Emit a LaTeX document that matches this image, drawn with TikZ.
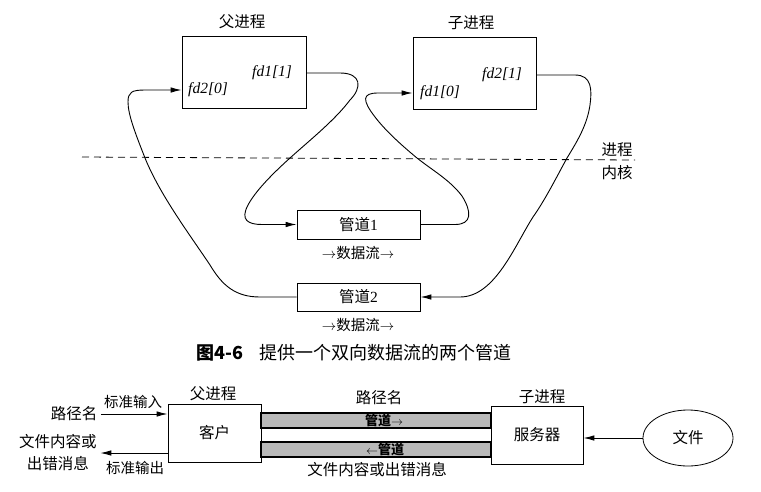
\documentclass[tikz,border=0pt]{standalone}
\usepackage{fontspec}
\setmainfont{Liberation Serif}
\newfontfamily\cjk{Noto Sans CJK SC}
\usetikzlibrary{arrows.meta,shapes.geometric}
\begin{document}
\begin{tikzpicture}[x=1pt,y=-1pt,
  box/.style={draw,line width=0.8pt,inner sep=0pt},
  conn/.style={line width=0.9pt},
  arr/.style={conn,-{Latex[length=11pt,width=5.5pt]}},
  zh/.style={font=\cjk\fontsize{15.5}{19}\selectfont},
  zhs/.style={font=\cjk\fontsize{14.5}{17}\selectfont},
  fdl/.style={font=\itshape\fontsize{15.5}{17}\selectfont},
  band/.style={draw,line width=1.3pt,fill=gray!55,minimum width=230pt,minimum height=15pt,inner sep=0pt},
  bandtext/.style={font=\cjk\bfseries\fontsize{13}{15}\selectfont},
]
\useasboundingbox (0,0) rectangle (761,491);

% ---- top figure ----
\node[box,minimum width=124pt,minimum height=72pt] (P) at (244,72) {};
\node[zh] (Pl) at (242,22) {父进程};
\node[box,minimum width=123pt,minimum height=72pt] (C) at (474.5,73) {};
\node[zh] (Cl) at (471,23) {子进程};
\node[fdl] (f11) at (272,73) {fd1[1]};
\node[fdl] (f20) at (208,90) {fd2[0]};
\node[fdl] (f10) at (440,93) {fd1[0]};
\node[fdl] (f21) at (502,75) {fd2[1]};

\node[box,minimum width=123pt,minimum height=29pt,zh] (G1) at (358.5,224.5) {管道\rmfamily 1};
\node[zhs] (D1) at (358,253) {$\rightarrow$数据流$\rightarrow$};
\node[box,minimum width=123pt,minimum height=28pt,zh] (G2) at (358.5,297) {管道\rmfamily 2};
\node[zhs] (D2) at (358,325) {$\rightarrow$数据流$\rightarrow$};

\coordinate (dl) at (82,157);
\coordinate (dr) at (635,160);
\draw[line width=0.8pt,dash pattern=on 7pt off 5pt] (dl) -- (dr);
\node[zh] (proc) at (617,150) {进程};
\node[zh] (kern) at (617,173) {内核};

\draw[arr] (f11 -| P.east) -- (340,73) .. controls (362,73) and (362,88) .. (350,100)
  .. controls (335,120) and (310,140) .. (290,158)
  .. controls (270,176) and (255,192) .. (248,205)
  .. controls (240,220) and (248,224.5) .. (262,224.5) -- (G1.west);

\draw[arr] (G1.east) -- (455,224.5) .. controls (472,224.5) and (472,212) .. (462,196)
  .. controls (450,180) and (432,170) .. (417,158)
  .. controls (400,144) and (385,130) .. (375,117)
  .. controls (362,100) and (362,93) .. (378,93) -- (f10 -| C.west);

\draw[arr] (f21 -| C.east) -- (575,75) .. controls (592,75) and (592,90) .. (590,105)
  .. controls (587,125) and (578,140) .. (567,158)
  .. controls (555,180) and (545,200) .. (533,217)
  .. controls (515,245) and (495,297) .. (460,297) -- (G2.east);

\draw[arr] (G2.west) -- (260,297) .. controls (235,297) and (222,285) .. (210,265)
  .. controls (190,235) and (160,195) .. (145,158)
  .. controls (136,135) and (128,115) .. (128,102)
  .. controls (128,92) and (132,90) .. (145,90) -- (f20 -| P.west);

\node[anchor=west,font=\cjk\fontsize{18}{20}\selectfont] (cap) at (193,353)
  {{\bfseries 图4-6}\hspace{0.9em}提供一个双向数据流的两个管道};

% ---- bottom figure ----
\node[box,minimum width=93pt,minimum height=58pt,zh] (K) at (214.5,433) {客户};
\node[zh] (Kl) at (213,394) {父进程};
\node[box,minimum width=92pt,minimum height=58pt,zh] (S) at (537,435) {服务器};
\node[zh] (Sl) at (542,397) {子进程};
\node[draw,ellipse,line width=0.8pt,minimum width=90pt,minimum height=56pt,inner sep=0pt,zh] (F) at (688,438) {文件};
\draw[arr] (F.west) -- (F.west -| S.east);

\node[band] (B1) at (376,420.5) {};
\node[band] (B2) at (376,449.5) {};
\node[bandtext] (T1) at (384,420.5) {管道$\rightarrow$};
\node[bandtext] (T2) at (385,449.5) {$\leftarrow$管道};
\node[zh] (BL1) at (379,398) {路径名};
\node[zh] (BL2) at (377,470) {文件内容或出错消息};

\node[zh] (in) at (74,414) {路径名};
\node[zhs] (sin) at (133,402) {标准输入};
\draw[arr] (in.east) -- (in.east -| K.west);
\node[zh,align=center,font=\cjk\fontsize{15.5}{22}\selectfont] (out) at (58,453) {文件内容或\\出错消息};
\draw[arr] (out.east -| K.west) -- (out.east);
\node[zhs] (sout) at (135,468) {标准输出};
\end{tikzpicture}
\end{document}
